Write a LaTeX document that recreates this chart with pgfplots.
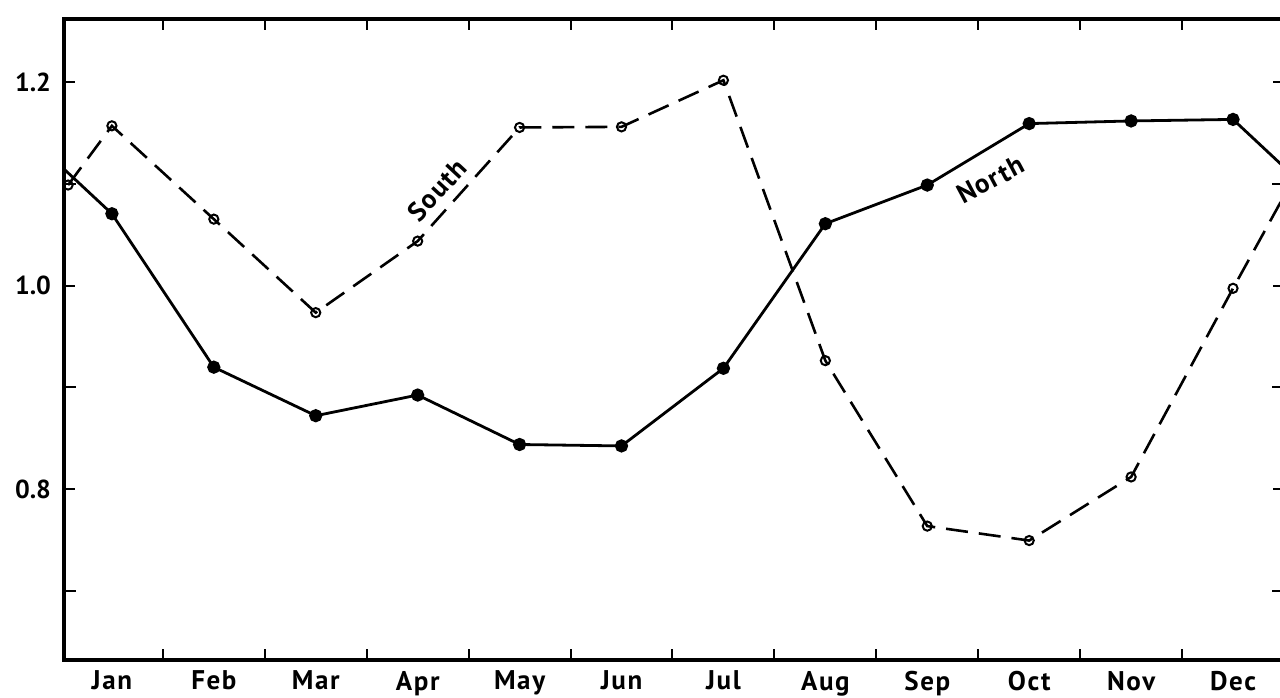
\documentclass[border=0pt]{standalone}
\usepackage{pgfplots}
\pgfplotsset{compat=1.18}
\usepackage{fontspec}
\setmainfont{PT Sans}
\begin{document}
\begin{tikzpicture}
\path[use as bounding box] (0,0) rectangle (640pt,348.5pt);
\begin{axis}[
  at={(32pt,18.5pt)}, anchor=south west,
  scale only axis, width=610pt, height=320.5pt,
  xmin=0.53, xmax=12.5, ymin=0.632, ymax=1.262,
  axis line style={line width=2pt},
  tick align=inside, xtick pos=both, ytick pos=both,
  xtick={1.5,2.5,...,11.5}, xticklabels={},
  extra x ticks={1,2,...,12},
  extra x tick labels={Jan,Feb,Mar,Apr,May,Jun,Jul,Aug,Sep,Oct,Nov,Dec},
  extra x tick style={major tick length=0pt},
  ytick={0.8,1.0,1.2}, minor ytick={0.7,0.9,1.1},
  major tick length=5.5pt, minor tick length=6pt,
  every tick/.style={black, line width=1pt},
  yticklabel style={/pgf/number format/fixed,/pgf/number format/fixed zerofill,/pgf/number format/precision=1, xshift=-3pt},
  /pgf/number format/assume math mode=true,
  ticklabel style={font=\bfseries\fontsize{13}{15}\selectfont},
  xticklabel style={yshift=-2pt, font=\bfseries\fontsize{13.5}{15}\selectfont\addfontfeatures{LetterSpace=6}},
]
\addplot[black, line width=1.4pt, mark=*, mark size=2.6pt, mark indices={2,...,13}] coordinates {
 (0.53,1.1145) (1,1.0706) (2,0.9198) (3,0.8721) (4,0.8924) (5,0.8438) (6,0.8424)
 (7,0.9187) (8,1.0608) (9,1.0988) (10,1.1592) (11,1.1618) (12,1.1633) (12.5,1.1165)};
\addplot[black, line width=1.3pt, dash pattern=on 11pt off 5.5pt, mark=o, mark size=2.3pt,
  mark indices={1,...,13},
  mark options={solid, fill=white, line width=1pt}] coordinates {
 (0.57,1.0988) (1,1.157) (2,1.0653) (3,0.9734) (4,1.0437) (5,1.1554) (6,1.156)
 (7,1.2018) (8,0.9262) (9,0.7636) (10,0.7494) (11,0.8119) (12,0.9973) (12.5,1.088)};
\node[rotate=47, font=\bfseries\fontsize{13.5}{15}\selectfont\addfontfeatures{LetterSpace=5}] at (axis cs:4.19,1.094) {South};
\node[rotate=28, font=\bfseries\fontsize{13.5}{15}\selectfont\addfontfeatures{LetterSpace=5}] at (axis cs:9.62,1.104) {North};
\end{axis}
\end{tikzpicture}
\end{document}
